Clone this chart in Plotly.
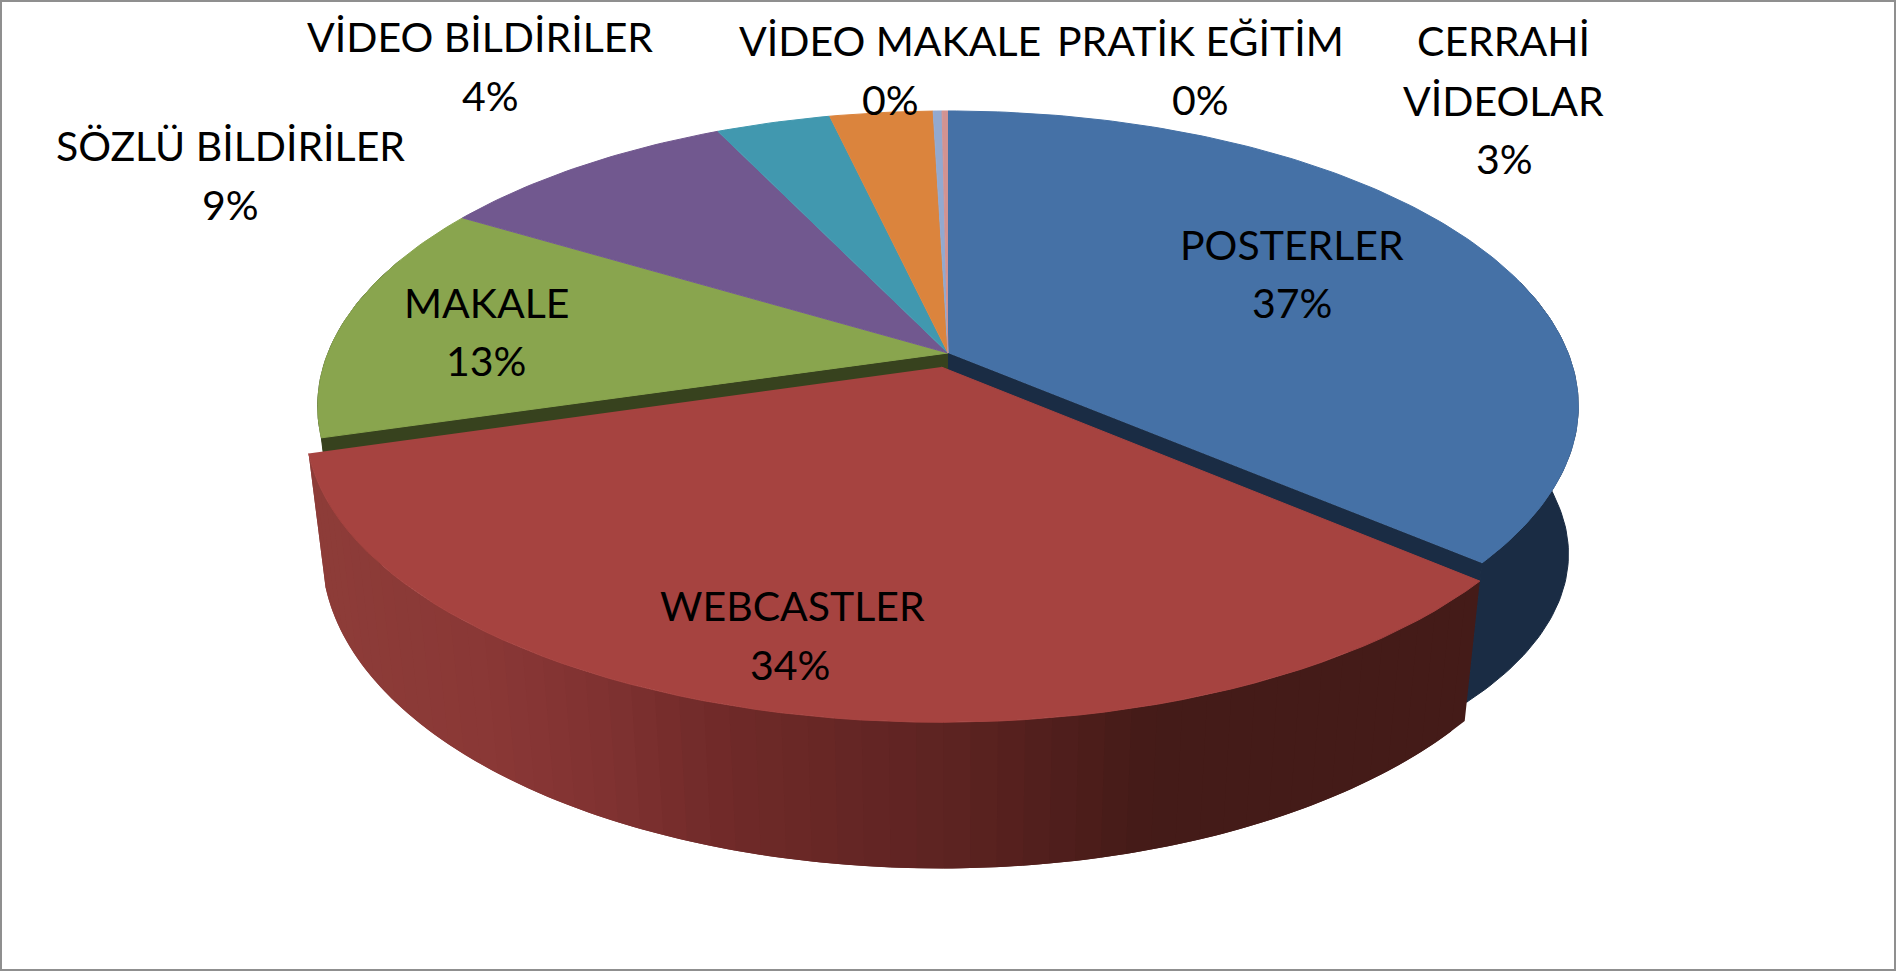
import numpy as np
import plotly.graph_objects as go

# ---- data ----
categories = ["POSTERLER", "WEBCASTLER", "MAKALE", "SÖZLÜ BİLDİRİLER", "VİDEO BİLDİRİLER",
              "CERRAHİ VİDEOLAR", "VİDEO MAKALE", "PRATİK EĞİTİM"]
values = [36.25, 34.2, 13.2, 9.25, 3.5, 3.15, 0.27, 0.18]
top_colors = ["#4571A6", "#A64340", "#89A54E", "#71588F", "#4198AF", "#DB843D", "#93A9CF", "#D19392"]
side_colors = ["#1A2C44", "#6F2A2A", "#37421E", "#2F2440", "#1B3F4A", "#5C3718", "#3D475A", "#57403F"]
pct_labels = ["37%", "34%", "13%", "9%", "4%", "3%", "0%", "0%"]

# ---- view (pinhole projection of the disc) ----
CX, CY, A, B, P = 948.0, 353.0, 620.0, 285.6, 0.18
VPY = 5500.0           # vanishing point of the vertical walls
HQ = 0.0256            # wall height in homogeneous units
EXPLODE = 0.05         # pull-out of WEBCASTLER
W, H = 1897, 971

RED_STOPS_X = [309, 500, 620, 713, 968, 1150, 1470]
RED_STOPS_C = [(0x8E, 0x3D, 0x39), (0x8A, 0x38, 0x36), (0x7F, 0x32, 0x31), (0x72, 0x2B, 0x2A),
               (0x5C, 0x23, 0x21), (0x45, 0x1B, 0x18), (0x44, 0x1B, 0x18)]


def project(theta, r=1.0, ox=0.0, oy=0.0, drop=0.0, xlean=1.0):
    """theta clockwise from the back of the disc, radians; xlean scales the inward lean of walls."""
    X = r * np.sin(theta) + ox
    Y = r * np.cos(theta) + oy
    w = 1 + P * Y
    px = CX + A * X / w
    py = CY - B * Y / w
    xd = drop * xlean
    return (px * w + CX * xd) / (w + xd), (py * w + VPY * drop) / (w + drop)


fracs = np.array(values) / sum(values)
edges = np.concatenate([[0], np.cumsum(fracs)]) * 2 * np.pi

fig = go.Figure()


def poly(xs, ys, color, name, lw=1):
    fig.add_trace(go.Scatter(x=list(xs), y=list(ys), mode="lines", fill="toself", fillcolor=color,
                             line=dict(color=color, width=lw), name=name, hoverinfo="skip",
                             showlegend=False))


def arc(a0, a1, n, **kw):
    t = np.linspace(a0, a1, n)
    return project(t, **kw)


# back disc: outer wall and cut walls
i_blue, i_red, i_green = 0, 1, 2
t_blue = np.linspace(np.radians(75), edges[1], 60)
# the wall of the back disc reads taller and straighter towards its right-hand extreme
ramp = np.clip((edges[1] - t_blue) / (edges[1] - np.radians(90)), 0, 1)
drop_blue = HQ * (1 + 0.25 * ramp)
x0, y0 = project(t_blue)
x1, y1 = project(t_blue, drop=drop_blue, xlean=1 - 0.65 * ramp)
poly(np.r_[x0, x1[::-1]], np.r_[y0, y1[::-1]], side_colors[i_blue], categories[i_blue])
x0, y0 = arc(edges[2], np.radians(290), 30)
x1, y1 = arc(edges[2], np.radians(290), 30, drop=HQ)
poly(np.r_[x0, x1[::-1]], np.r_[y0, y1[::-1]], side_colors[i_green], categories[i_green])
for i, th in ((i_blue, edges[1]), (i_green, edges[2])):
    ex0, ey0 = project(th)
    ex1, ey1 = project(th, drop=HQ)
    ax0, ay0 = project(th, r=0.0)
    ax1, ay1 = project(th, r=0.0, drop=HQ)
    poly([ax0, ex0, ex1, ax1], [ay0, ey0, ey1, ay1], side_colors[i], categories[i])

# tops of the pieces that stay in place
for i in range(len(values)):
    if i == i_red:
        continue
    x, y = arc(edges[i], edges[i + 1], max(4, int(values[i] * 4)))
    ax, ay = project(0.0, r=0.0)
    poly(np.r_[ax, x], np.r_[ay, y], top_colors[i], categories[i])

# pulled-out piece: wall strips drawn from the right end to the left, each overlapping the next
mid = (edges[1] + edges[2]) / 2
ox, oy = EXPLODE * np.sin(mid), EXPLODE * np.cos(mid)
N = 60
ts = np.linspace(edges[1], edges[2], N + 1)
for k in range(N):
    a, b = ts[k], ts[min(k + 2, N)]
    seg = np.linspace(a, b, 4)
    xa, ya = project(seg, ox=ox, oy=oy)
    xb, yb = project(seg, ox=ox, oy=oy, drop=HQ)
    xm = (xa[:2].mean() + xb[:2].mean()) / 2
    rgb = [int(np.interp(xm, RED_STOPS_X, [c[j] for c in RED_STOPS_C])) for j in range(3)]
    poly(np.r_[xa, xb[::-1]], np.r_[ya, yb[::-1]], "rgb(%d,%d,%d)" % tuple(rgb), categories[i_red], lw=0)
x, y = project(ts, ox=ox, oy=oy)
ax, ay = project(0.0, r=0.0, ox=ox, oy=oy)
poly(np.r_[ax, x], np.r_[ay, y], top_colors[i_red], categories[i_red])

# labels (text from the lists above, one annotation per line)
label_lines = [
    (["POSTERLER", pct_labels[0]], [(1292, 244), (1292, 302)]),
    (["WEBCASTLER", pct_labels[1]], [(792, 605), (790, 664)]),
    (["MAKALE", pct_labels[2]], [(486, 302), (486, 360)]),
    (["SÖZLÜ BİLDİRİLER", pct_labels[3]], [(230, 145), (230, 204)]),
    (["VİDEO BİLDİRİLER", pct_labels[4]], [(480, 36), (490, 95)]),
    (["CERRAHİ", "VİDEOLAR", pct_labels[5]], [(1503, 40), (1503, 100), (1504, 158)]),
    (["VİDEO MAKALE", pct_labels[6]], [(890, 40), (890, 99)]),
    (["PRATİK EĞİTİM", pct_labels[7]], [(1200, 40), (1200, 99)]),
]
anns = []
for lines, places in label_lines:
    for txt, (px, py) in zip(lines, places):
        anns.append(dict(x=px, y=py, xref="x", yref="y", text=txt, showarrow=False,
                         xanchor="center", yanchor="middle",
                         font=dict(family="Lato", size=41, color="#000000")))

fig.update_layout(
    width=W, height=H, margin=dict(l=0, r=0, t=0, b=0),
    paper_bgcolor="white", plot_bgcolor="white", showlegend=False,
    xaxis=dict(range=[0, W], visible=False, fixedrange=True),
    yaxis=dict(range=[H, 0], visible=False, fixedrange=True),
    annotations=anns,
    shapes=[dict(type="rect", xref="x", yref="y", x0=1, y0=1, x1=W - 2, y1=H - 1,
                 line=dict(color="#8f8f8f", width=2), fillcolor="rgba(0,0,0,0)", layer="above")],
)
fig.write_html("out.html", config={"displayModeBar": False},
               post_script="document.body.style.margin='0';document.body.style.overflow='hidden';")
